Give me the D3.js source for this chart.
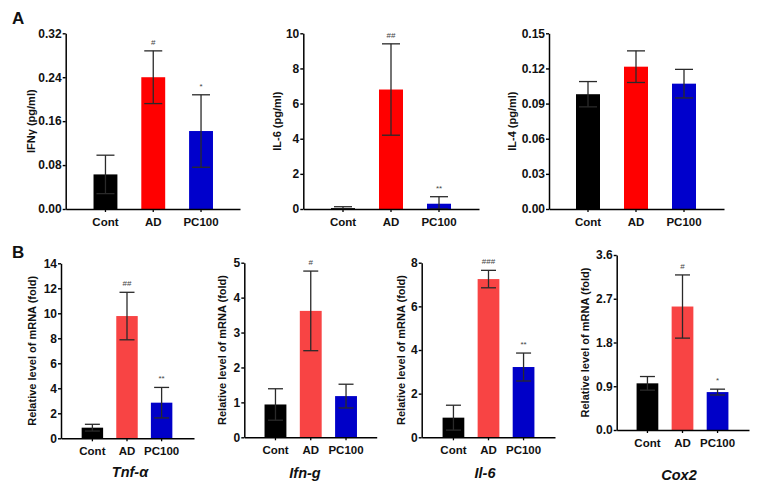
<!DOCTYPE html>
<html><head><meta charset="utf-8">
<script src="https://cdn.jsdelivr.net/npm/d3@7"></script>
<style>body{margin:0;background:#fff}svg{display:block;font-family:"Liberation Sans",Arial,sans-serif}</style>
</head><body><svg id="c" width="758" height="488"></svg>
<script>
const categories = ["Cont", "AD", "PC100"];
// Panel A (cytokines, pg/ml)
const ifngMean = [0.063, 0.240, 0.142];
const ifngSD   = [0.035, 0.048, 0.066];
const ifngSig  = ["", "#", "*"];
const il6Mean  = [0.05, 6.8, 0.3];
const il6SD    = [0.08, 2.6, 0.4];
const il6Sig   = ["", "##", "**"];
const il4Mean  = [0.098, 0.1215, 0.107];
const il4SD    = [0.0108, 0.0135, 0.0122];
const il4Sig   = ["", "", ""];
// Panel B (relative mRNA, fold)
const tnfMean  = [0.85, 9.78, 2.85];
const tnfSD    = [0.27, 1.90, 1.22];
const tnfSig   = ["", "##", "**"];
const ifnMean  = [0.94, 3.62, 1.18];
const ifnSD    = [0.45, 1.14, 0.34];
const ifnSig   = ["", "#", ""];
const il6mMean = [0.90, 7.25, 3.22];
const il6mSD   = [0.57, 0.40, 0.64];
const il6mSig  = ["", "###", "**"];
const coxMean  = [0.96, 2.54, 0.78];
const coxSD    = [0.14, 0.65, 0.06];
const coxSig   = ["", "#", "*"];
// tick values
const ticksIfng = [0, 0.08, 0.16, 0.24, 0.32];
const ticksIl6  = [0, 2, 4, 6, 8, 10];
const ticksIl4  = [0, 0.03, 0.06, 0.09, 0.12, 0.15];
const ticksTnf  = [0, 2, 4, 6, 8, 10, 12, 14];
const ticksIfn  = [0, 1, 2, 3, 4, 5];
const ticksIl6m = [0, 2, 4, 6, 8];
const ticksCox  = [0, 0.9, 1.8, 2.7, 3.6];

const colorsA = ["#000000", "#ff0000", "#0000cc"];
const colorsB = ["#000000", "#f84444", "#0000c8"];

const svg = d3.select("#c");
const FONT = '"Liberation Sans",Arial,sans-serif';

function panel(o) {
  const g = svg.append("g");
  const step = (o.c3 - o.c1) / 2;
  const x = d3.scaleBand().domain(categories).range([o.c1 - step / 2, o.c3 + step / 2]).padding(o.pad);
  const y = d3.scaleLinear().domain([0, o.ticks[o.ticks.length - 1]]).range([o.yBot, o.yTop]);
  g.selectAll("rect.bar").data(categories).join("rect")
    .attr("x", d => x(d)).attr("width", x.bandwidth())
    .attr("y", (d, i) => y(o.mean[i])).attr("height", (d, i) => o.yBot - y(o.mean[i]))
    .attr("fill", (d, i) => o.colors[i]);
  const cap = o.cap;
  categories.forEach((d, i) => {
    const cx = x(d) + x.bandwidth() / 2;
    const hi = y(o.mean[i] + o.sd[i]);
    const lo = y(Math.max(0, o.mean[i] - o.sd[i]));
    g.append("line").attr("x1", cx).attr("x2", cx).attr("y1", hi).attr("y2", lo)
      .attr("stroke", "#2a2a2a").attr("stroke-width", 1.3);
    g.append("line").attr("x1", cx - cap / 2).attr("x2", cx + cap / 2).attr("y1", hi).attr("y2", hi)
      .attr("stroke", "#2a2a2a").attr("stroke-width", 1.3);
    g.append("line").attr("x1", cx - cap / 2).attr("x2", cx + cap / 2).attr("y1", lo).attr("y2", lo)
      .attr("stroke", "#2a2a2a").attr("stroke-width", 1.3);
    if (o.sig[i]) {
      g.append("text").attr("x", cx).attr("y", hi - 6).attr("text-anchor", "middle")
        .attr("font-size", 8).attr("fill", "#444").text(o.sig[i]);
    }
  });
  const ya = g.append("g").attr("transform", `translate(${o.axisX},0)`)
    .call(d3.axisLeft(y).tickValues(o.ticks).tickFormat(d3.format(o.fmt)).tickSize(3).tickPadding(1).tickSizeOuter(0));
  ya.select(".domain").attr("stroke", "#000").attr("stroke-width", 1.5);
  ya.selectAll(".tick line").attr("stroke", "#000").attr("stroke-width", 1.4);
  ya.selectAll(".tick text").attr("font-family", FONT).attr("font-weight", "bold").attr("font-size", 12).attr("fill", "#111");
  const xs = d3.scaleLinear().domain([0, 1]).range([o.axisX, o.xEnd]);
  const xa = g.append("g").attr("transform", `translate(0,${o.yBot})`)
    .call(d3.axisBottom(xs).tickValues([]).tickSizeOuter(0));
  xa.select(".domain").attr("stroke", "#000").attr("stroke-width", 1.5);
  categories.forEach(d => {
    const cx = x(d) + x.bandwidth() / 2;
    g.append("line").attr("x1", cx).attr("x2", cx).attr("y1", o.yBot).attr("y2", o.yBot + 3)
      .attr("stroke", "#000").attr("stroke-width", 1.3);
    g.append("text").attr("x", cx).attr("y", o.yBot + 17).attr("text-anchor", "middle")
      .attr("font-weight", "bold").attr("font-size", 11.5).attr("fill", "#111").text(d);
  });
  const my = (o.yTop + o.yBot) / 2;
  g.append("text").attr("transform", `translate(${o.labelX},${my}) rotate(-90)`)
    .attr("text-anchor", "middle").attr("dominant-baseline", "middle")
    .attr("font-weight", "bold").attr("font-size", 11).attr("fill", "#111").text(o.label);
  if (o.gene) {
    g.append("text").attr("x", o.geneX).attr("y", o.geneY).attr("text-anchor", "middle")
      .attr("font-weight", "bold").attr("font-style", "italic").attr("font-size", 14.5).attr("fill", "#111").text(o.gene);
  }
}

panel({mean: ifngMean, sd: ifngSD, sig: ifngSig, ticks: ticksIfng, fmt: ".2f", colors: colorsA,
  c1: 97.5, c3: 209, pad: 0.5, cap: 18, axisX: 65.7, xEnd: 240, yTop: 33.3, yBot: 209,
  labelX: 32, label: "IFNγ (pg/ml)"});
panel({mean: il6Mean, sd: il6SD, sig: il6Sig, ticks: ticksIl6, fmt: "d", colors: colorsA,
  c1: 335, c3: 447, pad: 0.5, cap: 18, axisX: 303.3, xEnd: 479, yTop: 33.3, yBot: 209,
  labelX: 278, label: "IL-6 (pg/ml)"});
panel({mean: il4Mean, sd: il4SD, sig: il4Sig, ticks: ticksIl4, fmt: ".2f", colors: colorsA,
  c1: 580, c3: 692, pad: 0.5, cap: 18, axisX: 549, xEnd: 724, yTop: 33.3, yBot: 209,
  labelX: 513, label: "IL-4 (pg/ml)"});

panel({mean: tnfMean, sd: tnfSD, sig: tnfSig, ticks: ticksTnf, fmt: "d", colors: colorsB,
  c1: 88, c3: 166, pad: 0.38, cap: 15, axisX: 61, xEnd: 194, yTop: 263.3, yBot: 438.3,
  labelX: 33, label: "Relative level of mRNA (fold)", gene: "Tnf-α", geneX: 130, geneY: 477});
panel({mean: ifnMean, sd: ifnSD, sig: ifnSig, ticks: ticksIfn, fmt: "d", colors: colorsB,
  c1: 271, c3: 350.5, pad: 0.38, cap: 15, axisX: 244.3, xEnd: 376.7, yTop: 262.7, yBot: 437.3,
  labelX: 223, label: "Relative level of mRNA (fold)", gene: "Ifn-g", geneX: 305, geneY: 478});
panel({mean: il6mMean, sd: il6mSD, sig: il6mSig, ticks: ticksIl6m, fmt: "d", colors: colorsB,
  c1: 449, c3: 528, pad: 0.38, cap: 15, axisX: 421.7, xEnd: 555, yTop: 262.7, yBot: 437.3,
  labelX: 401.7, label: "Relative level of mRNA (fold)", gene: "Il-6", geneX: 485, geneY: 478});
panel({mean: coxMean, sd: coxSD, sig: coxSig, ticks: ticksCox, fmt: ".1f", colors: colorsB,
  c1: 643, c3: 722, pad: 0.38, cap: 15, axisX: 616.7, xEnd: 749, yTop: 255, yBot: 430,
  labelX: 586, label: "Relative level of mRNA (fold)", gene: "Cox2", geneX: 679, geneY: 480});

svg.append("text").attr("x", 12).attr("y", 24).attr("font-weight", "bold").attr("font-size", 17).attr("fill", "#111").text("A");
svg.append("text").attr("x", 12).attr("y", 258).attr("font-weight", "bold").attr("font-size", 17).attr("fill", "#111").text("B");
</script></body></html>
